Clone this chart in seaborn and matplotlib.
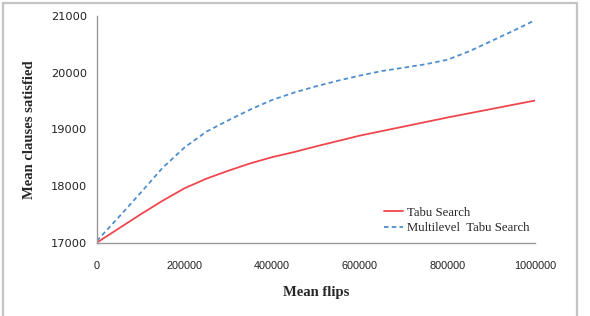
import matplotlib
matplotlib.use("Agg")
import matplotlib.pyplot as plt
import seaborn as sns
import pandas as pd
from matplotlib.lines import Line2D

flips_tabu = [0, 50000, 100000, 150000, 200000, 250000, 300000, 350000, 400000, 450000,
              500000, 600000, 700000, 800000, 900000, 1000000]
tabu = [17000, 17250, 17500, 17740, 17960, 18130, 18270, 18400, 18510, 18600,
        18700, 18890, 19050, 19210, 19360, 19510]

flips_ml = [0, 50000, 100000, 150000, 200000, 250000, 300000, 350000, 400000, 450000,
            500000, 550000, 600000, 650000, 700000, 750000, 800000, 850000, 900000, 950000, 1000000]
multilevel = [17030, 17450, 17880, 18320, 18680, 18960, 19160, 19350, 19520, 19650,
              19760, 19860, 19950, 20030, 20090, 20150, 20230, 20380, 20560, 20740, 20930]

series_names = ["Tabu Search", "Multilevel  Tabu Search"]
x_ticks = [0, 200000, 400000, 600000, 800000, 1000000]
y_ticks = [17000, 18000, 19000, 20000, 21000]

df = pd.concat([
    pd.DataFrame({"flips": flips_tabu, "clauses": tabu, "series": series_names[0]}),
    pd.DataFrame({"flips": flips_ml, "clauses": multilevel, "series": series_names[1]}),
])

sns.set_style("white")
fig = plt.figure(figsize=(5.9, 3.16), dpi=100)
ax = fig.add_axes([0.164, 0.232, 0.743, 0.717])

red = "#f0474e"
blue = "#4f8fcf"
sns.lineplot(data=df, x="flips", y="clauses", hue="series", style="series",
             palette={series_names[0]: red, series_names[1]: blue},
             dashes={series_names[0]: "", series_names[1]: (2.5, 1.8)},
             linewidth=1.3, ax=ax, legend=False)

ax.set_xlim(0, 1000000)
ax.set_ylim(17000, 21000)
ax.set_xticks(x_ticks)
ax.set_yticks(y_ticks)
ax.set_xticklabels([str(v) for v in x_ticks], fontsize=7.8, family="Liberation Sans", color="#222222")
ax.set_yticklabels([str(v) for v in y_ticks], fontsize=8.2, family="DejaVu Sans", color="#222222")
ax.tick_params(axis="both", which="both", width=0.8, color="#999999", direction="out")
ax.tick_params(axis="x", length=3, pad=10)
ax.tick_params(axis="y", length=4, pad=3)

for s in ["top", "right"]:
    ax.spines[s].set_visible(False)
for s in ["left", "bottom"]:
    ax.spines[s].set_color("#999999")
    ax.spines[s].set_linewidth(1.0)

ax.set_xlabel("Mean flips", fontsize=10.5, fontweight="bold", family="Liberation Serif", labelpad=11)
ax.set_ylabel("Mean clauses satisfied", fontsize=10.5, fontweight="bold", family="Liberation Serif", labelpad=11)

handles = [Line2D([], [], color=red, lw=1.3),
           Line2D([], [], color=blue, lw=1.3, dashes=(2.5, 1.8))]
ax.legend(handles, series_names, loc="lower right", bbox_to_anchor=(1.005, 0.0),
          frameon=False, prop={"family": "Liberation Serif", "size": 9.2},
          handlelength=1.5, handletextpad=0.3, labelspacing=0.3, borderaxespad=0.25)

# figure border
fig.patches.append(plt.Rectangle((2.5/590, -0.05), (577 - 2.5)/590, 1.05 - 2.5/316,
                                 transform=fig.transFigure, fill=False,
                                 edgecolor="#c4c4c4", linewidth=1.6))

fig.savefig("out.png", dpi=100)
